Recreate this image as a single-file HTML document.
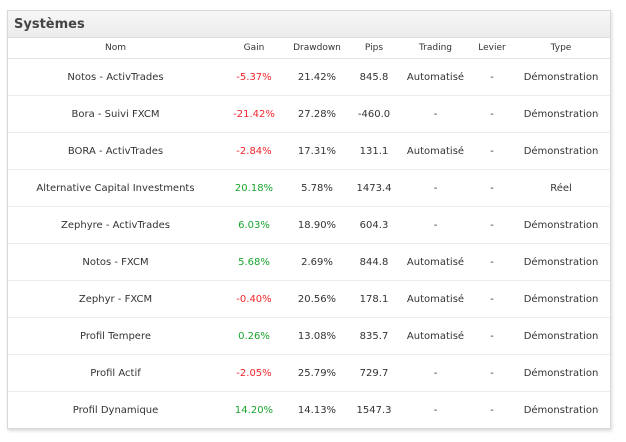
<!DOCTYPE html>
<html><head><meta charset="utf-8"><style>
body{margin:0;background:#fff;width:626px;height:442px;font-family:"DejaVu Sans","Liberation Sans",sans-serif;color:#333;}
.p{position:absolute;left:7px;top:10px;width:602px;height:417px;border:1px solid #d8d8d8;box-shadow:1px 2px 3px rgba(0,0,0,0.15);background:#fff;}
.h{height:26px;background:linear-gradient(#f7f7f7,#ebebeb);border-bottom:1px solid #ddd;font:bold 13px "DejaVu Sans",sans-serif;color:#444;line-height:27px;padding-left:6px;}
table{border-collapse:collapse;width:602px;table-layout:fixed;font-size:10px;}
th{font-weight:normal;font-size:9px;height:20px;border-bottom:1px solid #e3e3e3;color:#333;padding:0;}
td{height:36px;border-bottom:1px solid #ececec;text-align:center;padding:0;}
tr:last-child td{border-bottom:none}
.r{color:#f0262c}.g{color:#1aa52f}
</style></head><body><div class="p"><div class="h">Systèmes</div>
<table>
<colgroup><col style="width:215px"><col style="width:62px"><col style="width:64px"><col style="width:50px"><col style="width:73px"><col style="width:40px"><col style="width:98px"></colgroup>
<tr><th>Nom</th><th>Gain</th><th>Drawdown</th><th>Pips</th><th>Trading</th><th>Levier</th><th>Type</th></tr>
<tr><td>Notos - ActivTrades</td><td class="r">-5.37%</td><td>21.42%</td><td>845.8</td><td>Automatisé</td><td>-</td><td>Démonstration</td></tr>
<tr><td>Bora - Suivi FXCM</td><td class="r">-21.42%</td><td>27.28%</td><td>-460.0</td><td>-</td><td>-</td><td>Démonstration</td></tr>
<tr><td>BORA - ActivTrades</td><td class="r">-2.84%</td><td>17.31%</td><td>131.1</td><td>Automatisé</td><td>-</td><td>Démonstration</td></tr>
<tr><td>Alternative Capital Investments</td><td class="g">20.18%</td><td>5.78%</td><td>1473.4</td><td>-</td><td>-</td><td>Réel</td></tr>
<tr><td>Zephyre - ActivTrades</td><td class="g">6.03%</td><td>18.90%</td><td>604.3</td><td>-</td><td>-</td><td>Démonstration</td></tr>
<tr><td>Notos - FXCM</td><td class="g">5.68%</td><td>2.69%</td><td>844.8</td><td>Automatisé</td><td>-</td><td>Démonstration</td></tr>
<tr><td>Zephyr - FXCM</td><td class="r">-0.40%</td><td>20.56%</td><td>178.1</td><td>Automatisé</td><td>-</td><td>Démonstration</td></tr>
<tr><td>Profil Tempere</td><td class="g">0.26%</td><td>13.08%</td><td>835.7</td><td>Automatisé</td><td>-</td><td>Démonstration</td></tr>
<tr><td>Profil Actif</td><td class="r">-2.05%</td><td>25.79%</td><td>729.7</td><td>-</td><td>-</td><td>Démonstration</td></tr>
<tr><td>Profil Dynamique</td><td class="g">14.20%</td><td>14.13%</td><td>1547.3</td><td>-</td><td>-</td><td>Démonstration</td></tr>
</table></div></body></html>
